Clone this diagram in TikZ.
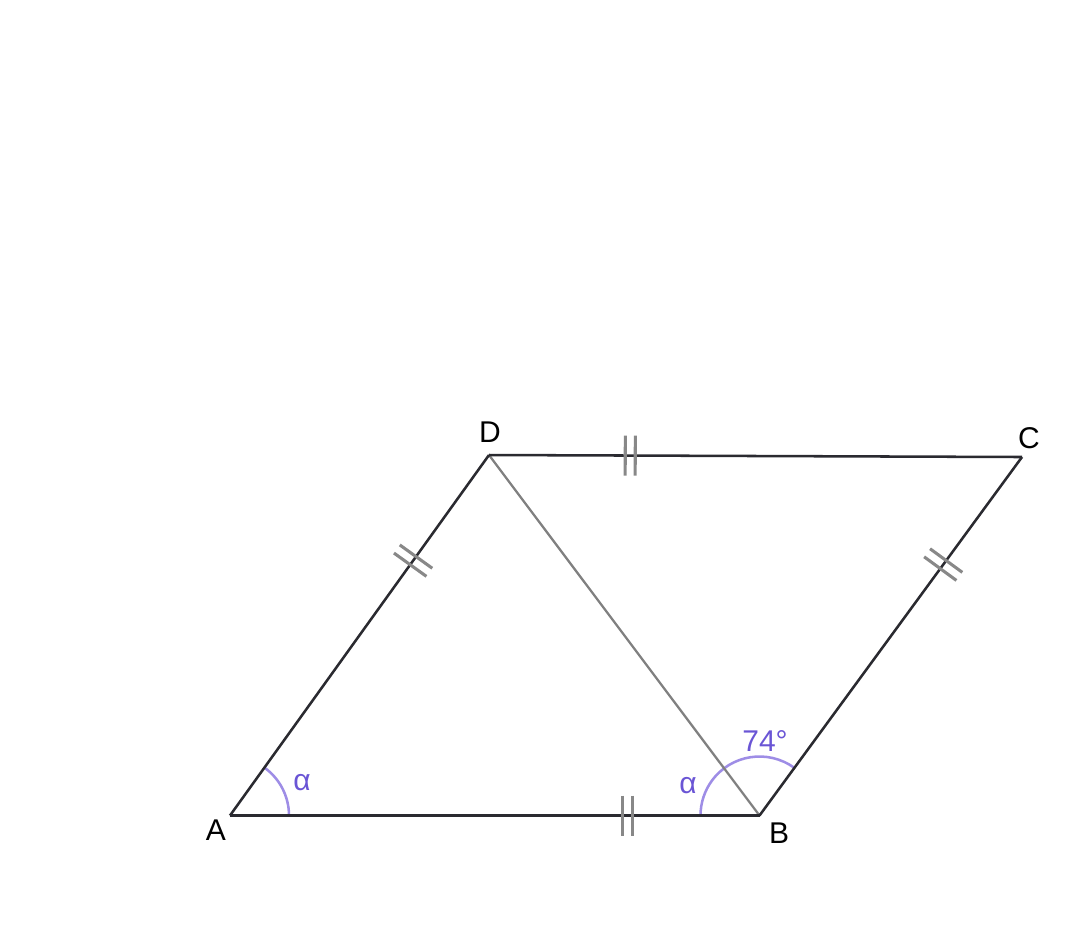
\documentclass[tikz,border=0pt]{standalone}
\usepackage{fontspec}
\setmainfont{Liberation Sans}
\usetikzlibrary{decorations.markings,calc}
\definecolor{side}{HTML}{2A2A30}
\definecolor{diag}{HTML}{808080}
\definecolor{tickc}{HTML}{888888}
\definecolor{arcc}{HTML}{9E8DE6}
\definecolor{lblc}{HTML}{6A55D5}
\begin{document}
\begin{tikzpicture}[x=0.75pt,y=-0.75pt,
  sideline/.style={draw=side,line width=1.9pt},
  diagline/.style={draw=diag,line width=1.7pt},
  tickpair/.style={postaction={decorate},decoration={markings,
    mark=at position #1 with {\draw[tickc,line width=2.3pt] (-5,-20)--(-5,20) (5,-20)--(5,20);}}},
  anglearc/.style={draw=arcc,line width=1.9pt},
  vlabel/.style={font=\fontsize{22.5}{22.5}\selectfont,text=black},
  alabel/.style={font=\fontsize{22.5}{22.5}\selectfont,text=lblc}]
\useasboundingbox (0,0) rectangle (1080,951);
\coordinate (A) at (230,815.5);
\coordinate (B) at (759.5,815.5);
\coordinate (D) at (489,455);
\coordinate (C) at (1022,457);
% angle arcs
\draw[anglearc] ($(A)+(59,0)$) arc[start angle=0,end angle=-54.3,radius=59];
\draw[anglearc] ($(B)+(-53.9:59)$) arc[start angle=-53.9,end angle=-180,radius=59];
% sides
\path[diagline] (D) -- (B);
\path[sideline,tickpair=0.707] (A) -- (D);
\path[sideline,tickpair=0.265] (D) -- (C);
\path[sideline,tickpair=0.751] (A) -- (B);
\path[sideline,tickpair=0.70] (B) -- (C);
% vertex labels
\node[vlabel] (lA) at (216,830) {A};
\node[vlabel] (lB) at (779,833) {B};
\node[vlabel] (lC) at (1029,438) {C};
\node[vlabel] (lD) at (490,432) {D};
% angle labels
\node[alabel] (a1) at (302,783) {α};
\node[alabel] (a2) at (688,786) {α};
\node[alabel] (a3) at (765,741) {74°};
\end{tikzpicture}
\end{document}
